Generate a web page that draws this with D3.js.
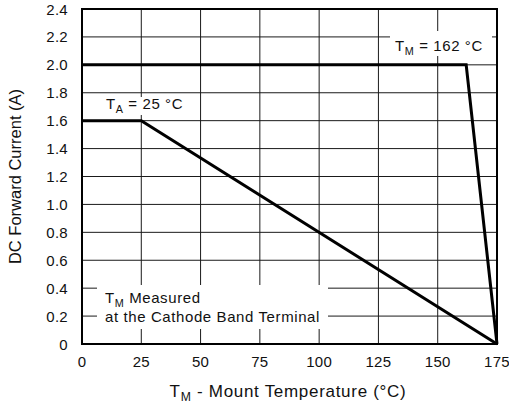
<!DOCTYPE html>
<html lang="en">
<head>
  <meta charset="UTF-8">
  <script src="https://d3js.org/d3.v7.min.js"></script>
  <title>DC Forward Current vs Mount Temperature</title>
  <style>
    body { margin: 0; background: #fff; }
    svg { font-family: "Liberation Sans", Arial, sans-serif; }
    .grid line { stroke: #1a1a1a; stroke-width: 1; }
    .tick-label { font-size: 15px; fill: #111; letter-spacing: 0.3px; }
    .title { font-size: 17px; fill: #111; letter-spacing: 0.7px; }
    .ytitle { font-size: 16.5px; fill: #111; }
    .note { font-size: 15px; fill: #111; letter-spacing: 0.6px; }
    .curve { fill: none; stroke: #000; stroke-width: 3; stroke-linejoin: miter; }
  </style>
</head>
<body>
  <svg width="509" height="405"></svg>

  <script>
    const width = 509, height = 405;
    const margin = { top: 9, right: 12, bottom: 61, left: 82 };

    // axis ticks
    const xTicks = [0, 25, 50, 75, 100, 125, 150, 175];
    const yTicks = [0, 0.2, 0.4, 0.6, 0.8, 1.0, 1.2, 1.4, 1.6, 1.8, 2.0, 2.2, 2.4];

    // derating curves (temperature °C, current A)
    const ambientTemp = [0, 25, 175];
    const ambientCurrent = [1.6, 1.6, 0];
    const mountTemp = [0, 162, 175];
    const mountCurrent = [2.0, 2.0, 0];

    const svg = d3.select("svg");

    const x = d3.scaleLinear().domain([0, 175]).range([margin.left, width - margin.right]);
    const y = d3.scaleLinear().domain([0, 2.4]).range([height - margin.bottom, margin.top]);

    // grid
    const grid = svg.append("g").attr("class", "grid");
    grid.selectAll("line.v")
      .data(xTicks)
      .enter().append("line")
      .attr("class", "v")
      .attr("x1", d => x(d)).attr("x2", d => x(d))
      .attr("y1", y(0)).attr("y2", y(2.4));
    grid.selectAll("line.h")
      .data(yTicks)
      .enter().append("line")
      .attr("class", "h")
      .attr("x1", x(0)).attr("x2", x(175))
      .attr("y1", d => y(d)).attr("y2", d => y(d));

    // frame
    svg.append("rect")
      .attr("x", x(0)).attr("y", y(2.4))
      .attr("width", x(175) - x(0)).attr("height", y(0) - y(2.4))
      .attr("fill", "none").attr("stroke", "#000").attr("stroke-width", 2);

    // tick labels
    svg.append("g").selectAll("text")
      .data(xTicks)
      .enter().append("text")
      .attr("class", "tick-label")
      .attr("x", d => x(d)).attr("y", 367)
      .attr("text-anchor", "middle")
      .text(d => d);

    svg.append("g").selectAll("text")
      .data(yTicks)
      .enter().append("text")
      .attr("class", "tick-label")
      .attr("x", 68).attr("y", d => y(d) + 5.5)
      .attr("text-anchor", "end")
      .text(d => d === 0 ? "0" : d.toFixed(1));

    // curves
    const line = d3.line().x(d => x(d[0])).y(d => y(d[1]));
    svg.append("path").attr("class", "curve")
      .attr("d", line(d3.zip(ambientTemp, ambientCurrent)));
    svg.append("path").attr("class", "curve")
      .attr("d", line(d3.zip(mountTemp, mountCurrent)));

    // annotation helpers: white box behind text, text with subscript
    function label(bx, by, bw, bh) {
      svg.append("rect").attr("x", bx).attr("y", by)
        .attr("width", bw).attr("height", bh).attr("fill", "#fff");
    }
    function subText(tx, ty, main, sub, rest, cls) {
      const t = svg.append("text").attr("class", cls).attr("x", tx).attr("y", ty);
      t.append("tspan").text(main);
      t.append("tspan").attr("dy", 4).attr("font-size", "0.72em").text(sub);
      t.append("tspan").attr("dy", -4).text(rest);
      return t;
    }

    label(100, 97, 96, 18);
    subText(106, 109, "T", "A", " = 25 °C", "note");

    label(390, 31, 102, 25);
    subText(395, 51, "T", "M", " = 162 °C", "note");

    label(97, 285, 231, 44);
    subText(105, 303, "T", "M", " Measured", "note");
    svg.append("text").attr("class", "note")
      .attr("x", 105).attr("y", 321.5)
      .text("at the Cathode Band Terminal");

    // axis titles
    subText(0, 397, "T", "M", " - Mount Temperature (°C)", "title")
      .attr("x", 288).attr("text-anchor", "middle");

    svg.append("text").attr("class", "ytitle")
      .attr("transform", `translate(21,${(y(0) + y(2.4)) / 2}) rotate(-90)`)
      .attr("text-anchor", "middle")
      .text("DC Forward Current (A)");
  </script>
</body>
</html>
